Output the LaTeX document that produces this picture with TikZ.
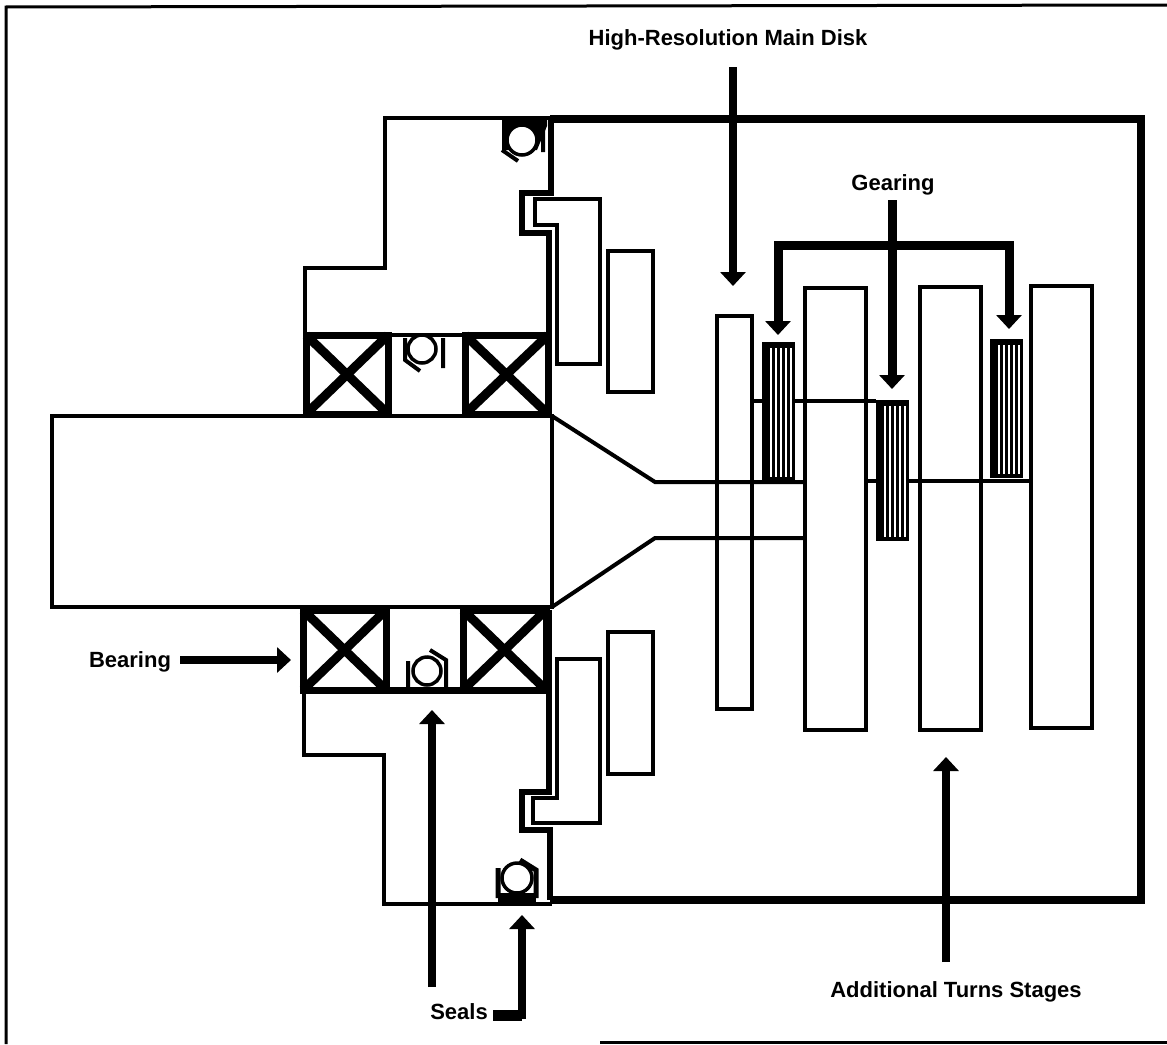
\documentclass[tikz,border=0pt]{standalone}
\usepackage{fontspec}
\setmainfont{Liberation Sans}
\usetikzlibrary{arrows.meta}
\tikzset{
    thinline/.style={line width=4pt},
    medline/.style={line width=6pt},
    heavyline/.style={line width=8pt},
    bearingline/.style={line width=7pt},
    crossline/.style={line width=9pt},
    sealring/.style={line width=3.5pt,fill=white},
    callout/.style={line width=8pt,-{Triangle[width=25pt,length=14pt]}},
    lbl/.style={inner sep=0pt,font=\fontsize{22}{26}\selectfont\bfseries},
}
\begin{document}
\begin{tikzpicture}[x=1pt,y=-1pt]
    \useasboundingbox (0,0) rectangle (1167,1044);
    \fill[white] (0,0) rectangle (1167,1044);
    \draw[line width=3pt] (6,1044) -- (6,7) -- (1167,5);
    \draw[line width=3pt] (600,1042) -- (1167,1042);
    % shaft
    \draw[thinline] (552,416) -- (52,416) -- (52,607) -- (552,607) -- cycle;
    \draw[thinline] (552,416) -- (655,482) -- (805,482);
    \draw[thinline] (552,607) -- (655,538) -- (805,538);
    % housing
    \draw[thinline] (305,335) -- (305,268) -- (385,268) -- (385,118) -- (551,118);
    \draw[thinline] (304,690) -- (304,755) -- (384,755) -- (384,904) -- (552,904);
    \draw[heavyline] (550,119) -- (1141,119) -- (1141,900) -- (550,900);
    \draw[medline] (551,119) -- (551,193) -- (522,193) -- (522,233) -- (549,233) -- (549,335);
    \draw[medline] (549,610) -- (549,792) -- (522,792) -- (522,830) -- (550,830) -- (550,900);
    % disk carriers
    \draw[thinline] (535,199) -- (600,199) -- (600,364) -- (557,364) -- (557,225) -- (535,225) -- cycle;
    \draw[thinline] (557,659) -- (600,659) -- (600,823) -- (533,823) -- (533,798) -- (557,798) -- cycle;
    \draw[thinline] (608,251) rectangle (653,392);
    \draw[thinline] (608,632) rectangle (653,774);
    % bearings
    \foreach \xa/\ya/\xb/\yb in {306/335/388/414,465/335/548/414,303/610/386/690,463/610/546/690}{
        \draw[bearingline] (\xa,\ya) rectangle (\xb,\yb);
        \draw[crossline] (\xa,\ya) -- (\xb,\yb) (\xa,\yb) -- (\xb,\ya);
    }
    \draw[bearingline] (303,690) -- (549,690);
    \draw[thinline] (388,335) -- (465,335);
    % seals
    \fill (502,118) -- (547,118) -- (547,126) -- (537,150) -- (502,150) -- cycle;
    \draw[sealring] (522,140) circle (15);
    \draw[thinline] (543,124) -- (543,152) (502,150) -- (518,161);
    \draw[sealring] (422,349) circle (14);
    \draw[thinline] (443,338) -- (443,368) (405,338) -- (405,360) -- (420,371);
    \fill (498,893) rectangle (536,904);
    \draw[sealring] (427,671) circle (14);
    \draw[thinline] (408,688) -- (408,661) (430,650) -- (446,660) -- (446,688);
    \draw[line width=5pt] (498,898) -- (498,868) (520,860) -- (536,870) -- (536,898);
    \draw[sealring] (517,878) circle (15);
    % stages
    \draw[thinline] (752,401) -- (876,401);
    \draw[thinline] (866,481) -- (1031,481);
    \foreach \xa/\ya/\xb/\yb in {717/316/752/709,805/288/866/730,920/287/981/730,1031/286/1092/728}{
        \draw[thinline] (\xa,\ya) rectangle (\xb,\yb);
    }
    % gears
    \foreach \xa/\ya/\yb in {762/342/481,876/400/541,990/339/478}{
        \fill (\xa,\ya) rectangle ++(33,\yb-\ya);
        \foreach \d in {8,13,...,28}{
            \fill[white] (\xa+\d,\ya+6) rectangle (\xa+\d+2.2,\yb-4);
        }
    }
    % labels
    \node[lbl] (mainlabel) at (728,40) {High-Resolution Main Disk};
    \node[lbl] (gearlabel) at (893,185) {Gearing};
    \node[lbl] (bearlabel) at (130,662) {Bearing};
    \node[lbl] (seallabel) at (459,1012) {Seals};
    \node[lbl] (turnlabel) at (956,992) {Additional Turns Stages};
    % arrows
    \coordinate (maintop) at (733,67);
    \coordinate (maintip) at (733,286);
    \coordinate (geartop) at (892,200);
    \coordinate (geartip) at (892,389);
    \coordinate (leftgear) at (778,335);
    \coordinate (leftbend) at (778,245);
    \coordinate (rightbend) at (1009,245);
    \coordinate (rightgear) at (1009,329);
    \coordinate (bearstart) at (180,660);
    \coordinate (beartip) at (291,660);
    \coordinate (sealone) at (432,987);
    \coordinate (sealonetip) at (432,710);
    \coordinate (sealtwo) at (493,1015);
    \coordinate (sealbend) at (522,1015);
    \coordinate (sealtwotip) at (522,915);
    \coordinate (turnstart) at (946,962);
    \coordinate (turntip) at (946,757);
    \draw[callout] (maintop) -- (maintip);
    \draw[callout,line width=9pt] (geartop) -- (geartip);
    \draw[line width=9pt,{Triangle[width=25pt,length=14pt]}-{Triangle[width=25pt,length=14pt]}] (leftgear) -- (leftbend) -- (rightbend) -- (rightgear);
    \draw[callout] (bearstart) -- (beartip);
    \draw[callout] (sealone) -- (sealonetip);
    \draw[callout] (sealtwo) -- (sealbend) -- (sealtwotip);
    \draw[line width=11pt] (sealtwo) -- (sealbend);
    \draw[callout] (turnstart) -- (turntip);
\end{tikzpicture}
\end{document}
